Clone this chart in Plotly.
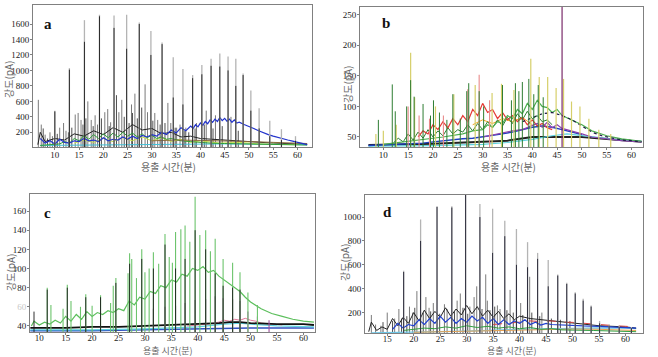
import plotly.graph_objects as go

# ---------------- Panel a ----------------
A_PEAK_T = [10.0, 13.0, 16.1, 19.2, 22.2, 24.8, 27.4, 29.8, 32.1, 34.4, 36.4, 38.4, 40.3, 42.2, 44.0, 45.7, 47.3, 48.8, 50.4, 52.1, 54.3, 56.7, 59.6]
A_GRAY_H = [480, 1030, 1650, 1720, 1710, 1720, 1620, 1510, 1360, 1170, 1020, 940, 1070, 1150, 1220, 1180, 1150, 960, 740, 510, 350, 240, 150]
A_BLACK_H = [470, 1010, 1370, 1700, 1550, 1280, 1600, 1200, 1340, 650, 560, 900, 950, 1060, 1050, 1000, 800, 940, 480, 250, 150, 100, 90]
A_MINOR_T = [6.6, 7.2, 8.0, 9.0, 9.5, 11.0, 11.8, 12.3, 14.2, 14.8, 15.4, 16.8, 17.5, 18.3, 18.8, 20.3, 20.9, 21.5, 23.2, 23.8, 25.8, 26.5, 28.6, 29.1, 30.6, 31.2, 33.3, 33.9, 35.1, 35.8, 37.0, 39.2, 41.2, 43.1, 46.3]
A_MINOR_H = [620, 300, 170, 200, 150, 260, 320, 220, 430, 450, 360, 600, 360, 420, 300, 460, 500, 330, 460, 620, 560, 700, 820, 460, 450, 360, 580, 320, 260, 300, 260, 320, 480, 420, 400]
A_SMALL_T = [7.6, 8.5, 10.5, 12.8, 13.5, 15.8, 16.4, 17.9, 19.6, 21.2, 22.7, 24.3, 25.3, 26.0, 27.0, 27.9, 30.2, 31.7, 32.7, 34.8, 36.8, 37.6, 38.9, 40.8, 42.6, 44.5, 47.8]
A_SMALL_H = [250, 120, 180, 200, 260, 300, 380, 280, 380, 280, 680, 400, 320, 450, 380, 520, 350, 300, 320, 260, 220, 200, 250, 300, 250, 280, 220]
A_BLACKB_T = [6.5, 7, 8, 10, 12, 14, 16, 18, 20, 22, 24, 26, 28, 30, 32, 34, 36, 38, 40, 45, 50, 55, 60, 62]
A_BLACKB_V = [40, 200, 80, 120, 100, 180, 150, 220, 170, 260, 200, 300, 230, 250, 180, 200, 140, 150, 120, 100, 80, 60, 50, 45]
A_BLUE_T = [7, 8, 9, 10, 11, 12, 13, 14, 15, 16, 17, 18, 19, 20, 21, 22, 23, 24, 25, 26, 27, 28, 29, 30, 31, 32, 33, 34, 35, 36, 37, 38,
            38.5, 39, 39.5, 40, 40.5, 41, 41.5, 42, 42.5, 43, 43.5, 44, 44.5, 45, 45.5, 46, 46.5, 47, 47.5, 48,
            49, 50, 51, 52, 53, 54, 55, 56, 57, 58, 59, 60, 61, 62]
A_BLUE_V = [120, 60, 90, 50, 110, 70, 60, 90, 80, 120, 90, 100, 80, 130, 90, 110, 100, 140, 110, 150, 120, 160, 140, 170, 150, 200, 170, 230, 190, 260, 220, 280,
            250, 300, 270, 320, 290, 340, 310, 360, 330, 370, 340, 390, 350, 380, 340, 370, 330, 360, 320, 330,
            300, 280, 250, 220, 190, 170, 150, 130, 115, 100, 85, 70, 55, 40]
A_GREEN_T = [7, 9, 11, 12, 13, 14, 15, 16, 17, 18, 19, 20, 21, 22, 23, 24, 25, 26, 27, 28, 29, 30, 31, 32, 33, 34, 35, 36, 38, 40, 42, 45, 50, 55, 60, 62]
A_GREEN_V = [30, 40, 50, 80, 60, 120, 90, 160, 110, 170, 120, 180, 130, 190, 140, 200, 150, 190, 140, 180, 130, 160, 120, 140, 110, 120, 100, 90, 80, 70, 60, 55, 50, 45, 40, 35]
A_LIME_T = [14, 16, 18, 20, 22, 24, 26, 28, 30, 32, 34, 36, 38, 40, 44, 48, 52, 56, 60]
A_LIME_V = [60, 100, 70, 120, 80, 130, 90, 140, 90, 130, 80, 110, 70, 90, 60, 70, 50, 45, 40]
A_BROWN_T = [30, 35, 40, 45, 50, 55, 60, 62]
A_BROWN_V = [90, 100, 95, 90, 80, 70, 60, 55]
A_CYAN_T = [7, 15, 25, 35, 45, 55, 62]
A_CYAN_V = [30, 35, 40, 45, 50, 45, 40]

# ---------------- Panel b ----------------
B_PURPLE_T = [46.0]
B_PURPLE_H = [275]
B_KHAKI_T = [8.5, 10, 12.6, 15.5, 16.3, 20.5, 24.2, 28.5, 31.9, 33.8, 36.3, 39.7, 41.4, 43.1, 44.8, 46.3, 47.9, 49.6, 51.4, 53.4, 55.8]
B_KHAKI_H = [55, 60, 70, 188, 115, 100, 120, 135, 122, 137, 127, 178, 148, 148, 130, 145, 108, 100, 80, 62, 55]
B_GREENP_T = [9, 11.8, 12.4, 14.7, 15.5, 16.2, 18, 19.5, 20.1, 21.3, 22.8, 24, 25.5, 26.8, 27.2, 29.3, 30.2, 34, 35.8, 36.6, 37.3, 38, 39.3, 40.3, 41.2, 42.2]
B_GREENP_H = [78, 136, 92, 100, 143, 116, 104, 85, 110, 90, 78, 120, 80, 125, 138, 125, 100, 135, 110, 138, 125, 140, 145, 120, 135, 115]
B_PINK_T = [15, 17.2, 19.3, 22.1, 27, 29.3, 31.4]
B_PINK_H = [100, 85, 80, 85, 128, 152, 110]
B_RED_T = [17, 18, 19, 20, 21, 22, 23, 24, 25, 26, 27, 28, 29, 30, 31, 32, 33, 34, 35, 36, 37, 38, 39, 40, 41, 42, 43, 44]
B_RED_V = [50, 60, 55, 70, 62, 75, 65, 80, 70, 85, 75, 95, 85, 105, 90, 95, 80, 90, 78, 85, 75, 82, 70, 78, 68, 72, 65, 62]
B_DGREEN_T = [12, 13, 14, 15, 16, 17, 18, 19, 20, 21, 22, 23, 24, 25, 26, 27, 28, 29, 30, 31, 32, 33, 34, 35, 36, 37, 38, 39, 40, 41, 42, 43, 44]
B_DGREEN_V = [40, 48, 42, 55, 45, 58, 48, 62, 50, 60, 52, 65, 55, 62, 58, 70, 60, 72, 62, 75, 65, 78, 68, 82, 72, 88, 78, 92, 80, 85, 75, 78, 70]
B_LGREEN_T = [10, 14, 18, 22, 26, 28, 30, 31, 32, 33, 34, 35, 36, 37, 38, 39, 40, 41, 42, 43, 44, 45, 46, 48, 50, 52, 55, 58, 62]
B_LGREEN_V = [38, 42, 45, 50, 55, 60, 62, 70, 66, 75, 72, 85, 80, 95, 88, 105, 95, 110, 100, 98, 90, 95, 85, 78, 70, 60, 52, 47, 43]
B_NAVY_T = [38, 40, 42, 44, 46, 48, 50, 52, 54, 56, 58, 60, 62]
B_NAVY_V = [75, 82, 88, 90, 85, 78, 68, 58, 52, 48, 45, 44, 42]
B_VIOLET_T = [30, 33, 36, 38, 40, 41, 42, 43, 44, 45, 46, 48, 50, 52, 55, 58, 62]
B_VIOLET_V = [50, 55, 60, 62, 68, 72, 66, 74, 65, 70, 64, 60, 55, 50, 47, 44, 42]
B_BLUE_T = [7, 10, 14, 18, 20, 22, 24, 26, 28, 30, 32, 34, 36, 38, 40, 42, 44, 46, 48, 50]
B_BLUE_V = [36, 37, 38, 40, 42, 44, 45, 47, 48, 50, 52, 55, 58, 62, 66, 68, 66, 62, 58, 54]
B_CYAN_T = [7, 20, 30, 35, 40, 44, 47, 50, 54, 58, 62]
B_CYAN_V = [35, 36, 38, 41, 46, 52, 55, 52, 48, 45, 43]
B_ORANGE_T = [28, 30, 32, 34, 36, 38, 40]
B_ORANGE_V = [70, 78, 72, 80, 75, 82, 70]
B_BASE_T = [7, 10, 15, 20, 25, 30, 35, 40, 50, 60, 62]
B_BASE_V = [37, 37, 38, 39, 40, 42, 44, 50, 50, 44, 42]

# ---------------- Panel c ----------------
C_GREEN_T = [8.5, 9, 10, 11, 12, 13, 14, 15, 16, 17, 18, 19, 20, 21, 22, 23, 24, 25, 26, 27, 28, 29, 30, 31, 32, 33, 34, 35, 36, 37, 38, 39, 40, 41, 42, 43, 44, 45, 46, 47, 48, 49, 50, 52, 54, 56, 58, 60, 62]
C_GREEN_V = [40, 45, 41, 44, 42, 46, 43, 50, 45, 52, 47, 55, 50, 54, 52, 56, 54, 58, 56, 66, 62, 70, 68, 76, 74, 82, 80, 88, 86, 94, 92, 100, 98, 102, 96, 98, 92, 88, 84, 80, 76, 70, 65, 58, 53, 50, 47, 45, 44]
C_GREENP_T = [11.5, 12.2, 14.5, 15.3, 16.0, 17.8, 18.8, 20.0, 21.6, 23.5, 24.0, 24.5, 26.8, 27.1, 27.5, 28.4, 29.4, 30.0, 30.8, 31.6, 32.6, 33.8, 34.6, 35.2, 35.8, 36.8, 37.6, 38.5, 39.5, 40.4, 41.5, 42.4, 43.3, 44.8, 46.6, 48.0, 49.5, 51.3]
C_GREENP_H = [80, 62, 58, 83, 66, 60, 73, 61, 72, 64, 82, 90, 95, 116, 110, 90, 120, 96, 100, 117, 105, 136, 112, 106, 138, 141, 145, 128, 175, 135, 140, 118, 131, 110, 106, 96, 75, 62]
C_BLACKP_T = [9.0, 11.5, 15.3, 18.8, 21.6, 24.5, 27.1, 29.4, 31.6, 33.8, 35.8, 37.6, 39.5, 41.5, 43.3, 44.8, 46.6, 48.0]
C_BLACKP_H = [55, 78, 80, 70, 70, 85, 105, 110, 100, 125, 100, 110, 140, 120, 95, 82, 80, 78]
C_PURPLE_T = [31.6, 33.8, 35.8, 37.6, 39.5, 41.5, 43.3, 44.8, 46.6, 48.0, 49.5, 51.3, 53.5]
C_PURPLE_H = [58, 60, 61, 64, 67, 68, 71, 69, 68, 66, 55, 50, 46]
C_PINK_T = [38, 40, 42, 44, 45, 46, 47, 48, 49, 50, 51, 52, 54, 56]
C_PINK_V = [40, 41, 42, 44, 46, 45, 47, 46, 48, 46, 45, 43, 42, 41]
C_BLACK_T = [8.3, 10, 15, 20, 25, 30, 35, 40, 44, 46, 48, 50, 55, 60, 62]
C_BLACK_V = [38, 38, 38, 39, 39, 40, 41, 42, 43, 44, 44, 43, 42, 42, 41]
C_CYAN_T = [8.3, 20, 30, 40, 45, 48, 50, 55, 62]
C_CYAN_V = [36, 36, 37, 39, 42, 43, 42, 40, 39]
C_BLUE_T = [8.3, 20, 30, 40, 50, 62]
C_BLUE_V = [35, 35, 36, 37, 38, 38]

# ---------------- Panel d ----------------
D_PEAK_T = [18.1, 21.3, 24.4, 27.2, 29.8, 32.5, 34.9, 37.2, 39.4, 41.5, 43.4, 45.4, 47.2, 48.9, 50.5, 52.0, 53.5, 55.1, 56.9, 58.8, 61.1]
D_GRAY_H = [550, 980, 1090, 1090, 1200, 1110, 1070, 970, 900, 790, 700, 640, 520, 450, 370, 315, 260, 130, 100, 90, 80]
D_BLACK_H = [540, 800, 1085, 1080, 1200, 1000, 700, 840, 600, 580, 650, 420, 510, 440, 360, 300, 250, 110, 90, 80, 70]
D_MINOR_T = [12.0, 12.8, 13.8, 15.0, 16.4, 17.2, 19.2, 19.8, 20.6, 22.3, 22.9, 23.7, 25.8, 26.3, 28.2, 28.8, 30.6, 31.4, 31.9, 33.6, 33.9, 35.8, 36.3, 38.2, 40.2, 41.9, 44.2]
D_MINOR_H = [180, 100, 90, 200, 150, 230, 250, 200, 380, 330, 240, 280, 270, 230, 300, 360, 250, 330, 420, 520, 300, 260, 230, 390, 280, 500, 200]
D_SMALL_T = [14.2, 16.0, 17.7, 18.7, 20.2, 21.8, 23.2, 24.9, 27.7, 29.3, 30.2, 32.9, 34.4, 35.3, 37.6, 38.8, 40.6, 42.3, 43.8, 46.0, 47.7, 49.5]
D_SMALL_H = [120, 130, 150, 170, 240, 200, 210, 190, 210, 240, 190, 230, 220, 250, 220, 200, 180, 200, 170, 150, 140, 130]
D_BLACKB_T = [11.5, 12, 13, 14, 15, 16, 17, 18, 19, 20, 21, 22, 23, 24, 25, 26, 27, 28, 29, 30, 31, 32, 33, 34, 35, 36, 37, 38, 39, 40, 42, 44, 46, 48, 50, 55, 60, 62]
D_BLACKB_V = [40, 120, 50, 80, 60, 150, 90, 160, 110, 200, 130, 220, 150, 210, 160, 240, 170, 230, 180, 260, 190, 250, 170, 220, 160, 210, 150, 190, 140, 170, 150, 140, 130, 120, 110, 90, 80, 70]
D_BLUE_T = [16, 17, 18, 19, 20, 21, 22, 23, 24, 25, 26, 27, 28, 29, 30, 31, 32, 33, 34, 35, 36, 37, 38, 39, 40, 41, 42, 43, 44, 45, 46, 48, 50, 52, 55, 58, 62]
D_BLUE_V = [60, 110, 70, 100, 90, 140, 100, 150, 110, 170, 120, 160, 110, 150, 120, 170, 130, 160, 110, 150, 100, 140, 100, 130, 110, 140, 100, 120, 95, 110, 100, 95, 90, 88, 85, 80, 70]
D_GREEN_T = [18, 20, 22, 24, 26, 28, 30, 32, 34, 36, 38, 40, 42, 44, 46, 48, 50, 54, 58, 62]
D_GREEN_V = [50, 60, 70, 65, 80, 70, 90, 75, 85, 70, 80, 65, 75, 60, 65, 55, 55, 50, 45, 40]
D_RED_T = [35, 38, 40, 42, 44, 46, 48, 50, 52, 54, 56, 58, 60, 62]
D_RED_V = [100, 110, 120, 130, 125, 130, 120, 118, 110, 105, 98, 90, 85, 80]
D_ORANGE_T = [20, 25, 30, 35, 40, 45, 50, 55, 60, 62]
D_ORANGE_V = [35, 40, 45, 50, 55, 60, 62, 60, 55, 50]
D_CYAN_T = [12, 20, 30, 40, 50, 55, 60, 62]
D_CYAN_V = [30, 35, 45, 60, 70, 72, 70, 65]

# tick labels
X_TICKS = [10, 15, 20, 25, 30, 35, 40, 45, 50, 55, 60]
D_X_TICKS = [15, 20, 25, 30, 35, 40, 45, 50, 55, 60]
A_Y_TICKS = [200, 400, 600, 800, 1000, 1200, 1400, 1600]
B_Y_TICKS = [50, 100, 150, 200, 250]
C_Y_TICKS = [40, 60, 80, 100, 120, 140, 160]
D_Y_TICKS = [200, 400, 600, 800, 1000]
X_TITLE = "용출 시간(분)"
Y_TITLE = "강도(pA)"
PANEL_LETTERS = ["a", "b", "c", "d"]

assert len(A_BLUE_T) == len(A_BLUE_V)
assert len(A_GREEN_T) == len(A_GREEN_V)
assert len(A_SMALL_T) == len(A_SMALL_H)
assert len(D_SMALL_T) == len(D_SMALL_H)
assert len(B_DGREEN_T) == len(B_DGREEN_V)

W, H = 658, 357
fig = go.Figure()


def line(t, v, color, ax, width=1.0, dash="solid"):
    fig.add_trace(go.Scatter(x=t, y=v, mode="lines", xaxis="x" + ax, yaxis="y" + ax,
                             line=dict(color=color, width=width, dash=dash), hoverinfo="skip"))


def spikes(t, h, floor, color, ax, width=1.0):
    xs, ys = [], []
    for ti, hi in zip(t, h):
        xs += [ti, ti, None]
        ys += [floor, hi, None]
    fig.add_trace(go.Scatter(x=xs, y=ys, mode="lines", xaxis="x" + ax, yaxis="y" + ax,
                             line=dict(color=color, width=width), hoverinfo="skip"))


# panel a  (axis suffix '')
fa = 10
spikes(A_MINOR_T, A_MINOR_H, fa, "#7a7a7a", "", 1.0)
spikes(A_SMALL_T, A_SMALL_H, fa, "#3a3a3a", "", 0.9)
line(A_BLACKB_T, A_BLACKB_V, "#222222", "")
line(A_CYAN_T, A_CYAN_V, "#40c0d8", "")
line(A_LIME_T, A_LIME_V, "#c5e04a", "")
line(A_GREEN_T, A_GREEN_V, "#2e9e3a", "")
line(A_BROWN_T, A_BROWN_V, "#8b6a3a", "")
line(A_BLUE_T, A_BLUE_V, "#2233cc", "", 1.2)
spikes(A_PEAK_T, A_GRAY_H, fa, "#b4b4b4", "", 1.3)
spikes(A_PEAK_T, A_BLACK_H, fa, "#1a1a1a", "", 0.9)

# panel b
fb = 33.6
line(B_BASE_T, B_BASE_V, "#222222", "2", 2.0)
line(B_CYAN_T, B_CYAN_V, "#5fd3e0", "2", 1.2)
line(B_BLUE_T, B_BLUE_V, "#1e3fbf", "2", 1.4)
line(B_ORANGE_T, B_ORANGE_V, "#f5a623", "2")
line(B_DGREEN_T, B_DGREEN_V, "#2e7d32", "2")
line(B_RED_T, B_RED_V, "#e53935", "2", 1.2)
line(B_VIOLET_T, B_VIOLET_V, "#8e44ad", "2", 1.2)
line(B_LGREEN_T, B_LGREEN_V, "#4caf50", "2", 1.2)
line(B_NAVY_T, B_NAVY_V, "#1a1a40", "2", 1.2, "dot")
spikes(B_KHAKI_T, B_KHAKI_H, fb, "#d6cf6a", "2", 1.2)
spikes(B_PINK_T, B_PINK_H, fb, "#e88a8a", "2", 1.1)
spikes(B_GREENP_T, B_GREENP_H, fb, "#2e7d32", "2", 1.0)
spikes(B_PURPLE_T, B_PURPLE_H, fb, "#7a2a6a", "2", 1.2)

# panel c
fc = 33.7
line(C_BLUE_T, C_BLUE_V, "#3050c0", "3", 1.5)
line(C_CYAN_T, C_CYAN_V, "#5fd3e0", "3", 1.2)
line(C_PINK_T, C_PINK_V, "#e07a9a", "3")
line(C_BLACK_T, C_BLACK_V, "#111111", "3", 1.8)
spikes(C_PURPLE_T, C_PURPLE_H, fc, "#a04fa0", "3", 1.1)
line(C_GREEN_T, C_GREEN_V, "#5cbf5c", "3", 1.2)
spikes(C_GREENP_T, C_GREENP_H, fc, "#6cc46c", "3", 1.1)
spikes(C_BLACKP_T, C_BLACKP_H, fc, "#1a1a1a", "3", 0.9)

# panel d
fd = 29
spikes(D_MINOR_T, D_MINOR_H, fd, "#7a7a7a", "4", 1.0)
spikes(D_SMALL_T, D_SMALL_H, fd, "#3a3a3a", "4", 0.9)
line(D_CYAN_T, D_CYAN_V, "#6ec6e6", "4", 1.2)
line(D_ORANGE_T, D_ORANGE_V, "#e8a050", "4")
line(D_BLACKB_T, D_BLACKB_V, "#222222", "4")
line(D_GREEN_T, D_GREEN_V, "#2e9e3e", "4")
line(D_RED_T, D_RED_V, "#d84343", "4", 1.0, "dash")
line(D_BLUE_T, D_BLUE_V, "#1f3fcf", "4", 1.2)
spikes(D_PEAK_T, D_GRAY_H, fd, "#b4b4b4", "4", 1.3)
spikes(D_PEAK_T, D_BLACK_H, fd, "#1a1a2a", "4", 0.9)

tickfont = dict(family="Liberation Serif", size=9, color="#222222")
axis_common = dict(showline=True, linecolor="#808080", linewidth=1, mirror=True,
                   ticks="outside", ticklen=2, tickcolor="#808080", showgrid=False,
                   zeroline=False, tickfont=tickfont, fixedrange=True, automargin=False)
xstand = dict(ticklabelstandoff=-3)
xstand_low = dict(ticklabelstandoff=-5)
ystand = dict(ticklabelstandoff=-1)


def px_x(p):
    return p / W


def px_y(p):
    return 1 - p / H


c_ticktext = [str(v) if v != 60 else "<span style='color:#c8c8c8'>60</span>" for v in C_Y_TICKS]

fig.update_layout(
    width=W, height=H, margin=dict(l=0, r=0, t=0, b=0, autoexpand=False), autosize=False,
    paper_bgcolor="white", plot_bgcolor="white", showlegend=False,
    xaxis=dict(domain=[px_x(33), px_x(312)], range=[5.5, 63.0], tickvals=X_TICKS, anchor="y", **axis_common, **xstand),
    yaxis=dict(domain=[px_y(147), px_y(5)], range=[10, 1846], tickvals=A_Y_TICKS, anchor="x", **axis_common, **ystand),
    xaxis2=dict(domain=[px_x(360), px_x(643)], range=[5.3, 62.3], tickvals=X_TICKS, anchor="y2", **axis_common, **xstand),
    yaxis2=dict(domain=[px_y(147), px_y(7)], range=[33.6, 262.7], tickvals=B_Y_TICKS, anchor="x2", **axis_common, **ystand),
    xaxis3=dict(domain=[px_x(30), px_x(315)], range=[8.24, 62.2], tickvals=X_TICKS, anchor="y3", **axis_common, **xstand_low),
    yaxis3=dict(domain=[px_y(332), px_y(194)], range=[33.7, 177.8], tickvals=C_Y_TICKS, ticktext=c_ticktext, anchor="x3", **axis_common, **ystand),
    xaxis4=dict(domain=[px_x(365), px_x(643)], range=[10.8, 63.3], tickvals=D_X_TICKS, anchor="y4", **axis_common, **xstand_low),
    yaxis4=dict(domain=[px_y(333), px_y(195)], range=[29, 1185], tickvals=D_Y_TICKS, anchor="x4", **axis_common, **ystand),
)

title_font = dict(family="Noto Sans CJK KR", size=10, color="#666666")
small_title_font = dict(family="Noto Sans CJK KR", size=9, color="#666666")
letter_font = dict(family="Liberation Serif", size=15, color="#111111")
anns = []
for (xc, yc), f in zip([(168, 166), (508, 166), (168, 350.5), (512, 350.5)],
                       [title_font, title_font, small_title_font, small_title_font]):
    anns.append(dict(x=px_x(xc), y=px_y(yc), xref="paper", yref="paper", text=X_TITLE,
                     showarrow=False, font=f, xanchor="center", yanchor="middle"))
for (xc, yc) in [(8, 80), (347, 85), (10, 273), (344, 263)]:
    anns.append(dict(x=px_x(xc), y=px_y(yc), xref="paper", yref="paper", text=Y_TITLE, textangle=-90,
                     showarrow=False, font=title_font, xanchor="center", yanchor="middle"))
for letter, (xc, yc) in zip(PANEL_LETTERS, [(48, 24), (386, 23), (47, 213), (387, 212)]):
    anns.append(dict(x=px_x(xc), y=px_y(yc), xref="paper", yref="paper", text="<b>" + letter + "</b>",
                     showarrow=False, font=letter_font, xanchor="center", yanchor="middle"))
fig.update_layout(annotations=anns)

fig.write_html("out.html", config={"displayModeBar": False},
               post_script="document.body.style.margin='0';document.body.style.overflow='hidden';")
